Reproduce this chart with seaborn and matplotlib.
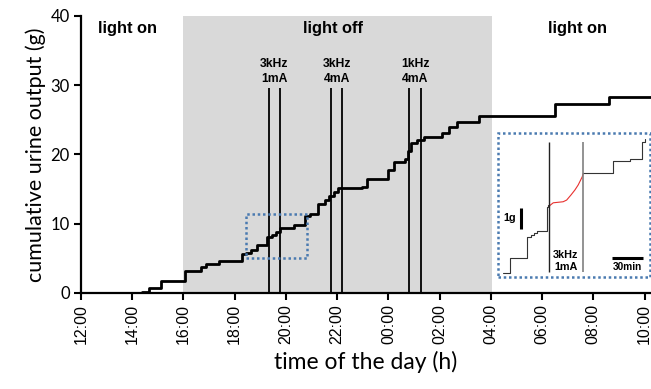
import numpy as np
import pandas as pd
import seaborn as sns
import matplotlib.pyplot as plt
from matplotlib.patches import Rectangle

# cumulative urine output, hours after 12:00 and grams (steps-post)
step_hours = [0, 2.40, 2.67, 3.11, 4.06, 4.67, 4.88, 5.40, 6.28, 6.45, 6.63, 6.86,
              7.25, 7.45, 7.62, 7.77, 8.32, 8.75, 8.95, 9.27, 9.53, 9.70, 9.86,
              10.05, 10.96, 11.16, 12.00, 12.20, 12.66, 12.75, 12.90, 13.10, 13.37,
              14.09, 14.35, 14.67, 15.52, 18.52, 20.60, 22.25]
step_grams = [0, 0.2, 0.75, 1.7, 3.2, 3.8, 4.25, 4.65, 5.6, 5.75, 6.2, 6.95,
              8.1, 8.4, 8.8, 9.4, 9.8, 11.1, 11.35, 12.8, 13.4, 14.0, 14.6,
              15.1, 15.35, 16.5, 17.7, 18.9, 19.4, 20.5, 21.6, 22.1, 22.55,
              23.1, 23.9, 24.7, 25.6, 27.3, 28.3, 28.3]

tick_hours = list(range(0, 23, 2))
tick_labels = ["12:00", "14:00", "16:00", "18:00", "20:00", "22:00",
               "00:00", "02:00", "04:00", "06:00", "08:00", "10:00"]

dark_start, dark_end = 4.0, 16.05

stim_on = [7.32, 9.77, 12.80]
stim_off = [7.77, 10.20, 13.28]
stim_labels = ["3kHz\n1mA", "3kHz\n4mA", "1kHz\n4mA"]

zoom_x = [6.45, 8.84]
zoom_y = [5.0, 11.4]

# inset trace: minutes, grams relative to box bottom
pre_min = [4.5, 10.6, 25.8, 29.5, 32.7, 34.9, 44.0, 45.5, 46.4]
pre_g = [0.19, 0.88, 1.88, 1.98, 2.07, 2.18, 3.33, 3.40, 3.37]
stim_min = [46.4, 50.0, 59.0, 62.2, 66.1, 69.7, 72.7, 76.4, 77.3]
stim_g = [3.37, 3.52, 3.57, 3.65, 3.89, 4.13, 4.37, 4.76, 4.92]
post_min = [77.3, 104.5, 119.7, 130.4, 133.4]
post_g = [4.92, 5.52, 5.59, 6.43, 6.54]

sns.set_theme(style="ticks")
plt.rcParams['font.family'] = ['Liberation Sans', 'DejaVu Sans']
plt.rcParams['text.color'] = 'black'
plt.rcParams['axes.labelcolor'] = 'black'
plt.rcParams['xtick.color'] = 'black'
plt.rcParams['ytick.color'] = 'black'

box_blue = "#4a7ab0"
dots = (0, (1, 1.1))

fig = plt.figure(figsize=(6.51, 3.89), dpi=100)
ax = fig.add_axes([0.1244, 0.2468, 0.8756, 0.7128])

ax.axvspan(dark_start, dark_end, color="#d9d9d9", lw=0, zorder=0)

df = pd.DataFrame({"hours": step_hours, "grams": step_grams})
sns.lineplot(data=df, x="hours", y="grams", ax=ax, color="black", lw=2.0,
             drawstyle="steps-post", estimator=None, sort=False, zorder=3)

for a, b, lab in zip(stim_on, stim_off, stim_labels):
    ax.vlines([a, b], 0, 29.6, color="black", lw=1.3, zorder=4)
    ax.text((a + b) / 2, 32.0, lab, ha="center", va="center", fontsize=8.7,
            fontweight="bold", linespacing=1.3)

ax.text(1.82, 38.1, "light on", ha="center", va="center", fontsize=11.8, fontweight="bold")
ax.text(9.82, 38.1, "light off", ha="center", va="center", fontsize=11.8, fontweight="bold")
ax.text(19.4, 38.1, "light on", ha="center", va="center", fontsize=11.8, fontweight="bold")

ax.add_patch(Rectangle((zoom_x[0], zoom_y[0]), zoom_x[1] - zoom_x[0], zoom_y[1] - zoom_y[0],
                       fill=False, ec=box_blue, lw=1.8, ls=dots, zorder=5))

ax.set_xlim(0, 22.25)
ax.set_ylim(0, 40)
ax.set_xticks(tick_hours)
ax.set_xticklabels(tick_labels, rotation=90, fontsize=11.5)
ax.set_yticks([0, 10, 20, 30, 40])
ax.set_yticklabels(["0", "10", "20", "30", "40"], fontsize=12, family="Lato")
ax.tick_params(axis="both", direction="out", length=5, width=1.5, colors="black", pad=3)
for s in ["top", "right"]:
    ax.spines[s].set_visible(False)
for s in ["left", "bottom"]:
    ax.spines[s].set_linewidth(1.6)
    ax.spines[s].set_color("black")
ax.set_xlabel("time of the day (h)", fontsize=16.5, family="Lato", labelpad=5)
ax.set_ylabel("cumulative urine output (g)", fontsize=15.5, family="Lato", labelpad=3)

# inset of the dotted region
ins = fig.add_axes([0.7654, 0.2887, 0.2330, 0.3702])
ins.set_facecolor("white")
ins.plot(pre_min, pre_g, color="#333333", lw=0.8, drawstyle="steps-post")
ins.plot(stim_min, stim_g, color="#e8312f", lw=0.8)
ins.plot(post_min, post_g, color="#333333", lw=0.8, drawstyle="steps-post")
ins.vlines(46.4, 0.24, 6.43, color="#222222", lw=1.0)
ins.vlines(76.7, 0.24, 6.43, color="#808080", lw=1.2)
ins.text(61.5, 0.73, "3kHz\n1mA", ha="center", va="center", fontsize=7.8,
         fontweight="bold", linespacing=1.25)
ins.vlines(20.6, 2.27, 3.29, color="black", lw=2.2)
ins.text(10.6, 2.8, "1g", ha="center", va="center", fontsize=7.8, fontweight="bold")
ins.hlines(0.9, 103.6, 131.8, color="black", lw=2.2)
ins.text(117.8, 0.45, "30min", ha="center", va="center", fontsize=7.3, fontweight="bold")
ins.set_xlim(0, 138)
ins.set_ylim(0, 6.86)
ins.set_xticks([])
ins.set_yticks([])
for s in ins.spines.values():
    s.set_visible(False)
ins.add_patch(Rectangle((0, 0), 1, 1, transform=ins.transAxes, fill=False,
                        ec=box_blue, lw=1.8, ls=dots, clip_on=False, zorder=6))

fig.savefig("out.png", dpi=100)
